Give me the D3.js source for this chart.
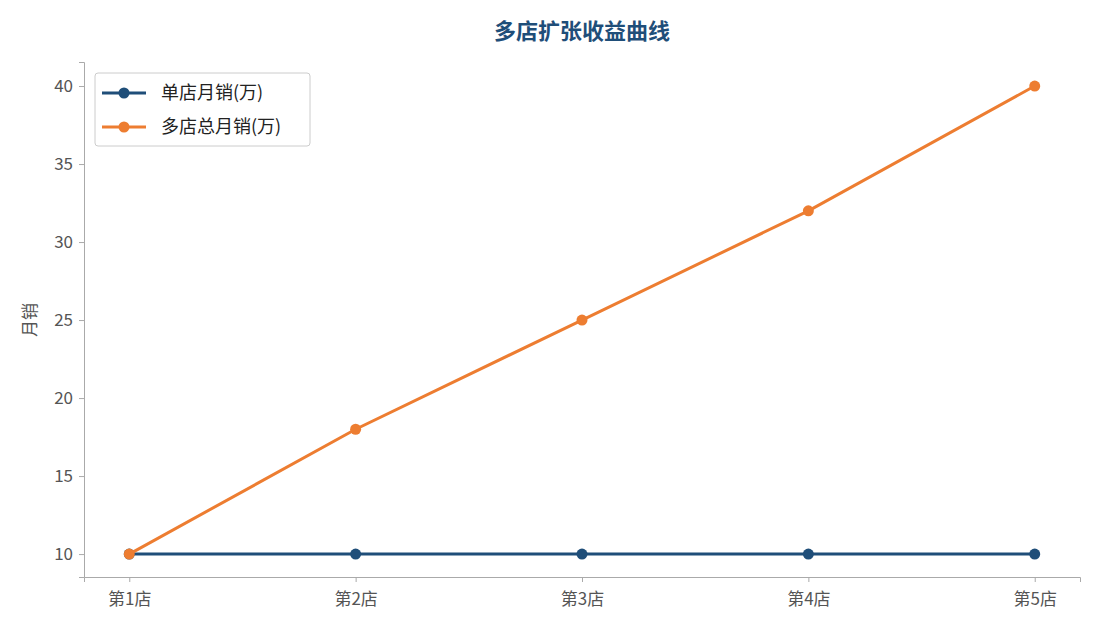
<!DOCTYPE html><html><head><meta charset="utf-8"><script src="https://cdn.jsdelivr.net/npm/d3@7"></script>
<style>body{margin:0;background:#fff;font-family:"Noto Sans CJK SC","Noto Sans",sans-serif}</style></head><body><svg id="c" width="1095" height="630"></svg>
<script>
const categories=["第1店","第2店","第3店","第4店","第5店"];
const single=[10,10,10,10,10];
const total=[10,18,25,32,40];
const yTicks=[10,15,20,25,30,35,40];
const seriesNames=["单店月销(万)","多店总月销(万)"];
const colors=["#1f4e79","#ed7d31"];
const svg=d3.select("#c");
const L=84,R=1080,T=62,B=577;
const x=d3.scalePoint().domain(categories).range([L,R]).padding(0.2);
const y=d3.scaleLinear().domain([8.53,41.54]).range([B,T]);
const fnt='"Noto Sans CJK SC","Noto Sans",sans-serif';
const ax=svg.append("g").attr("transform",`translate(0,${B})`).call(d3.axisBottom(x).tickSizeOuter(0).tickSize(5).tickPadding(6));
const ay=svg.append("g").attr("transform",`translate(${L},0)`).call(d3.axisLeft(y).tickValues(yTicks).tickSizeOuter(0).tickSize(5).tickPadding(6));
[ax,ay].forEach(a=>{a.selectAll("path,line").attr("stroke","#aaa");a.selectAll("text").attr("fill","#555").style("font-size","17px").style("font-family",fnt);});
ax.selectAll("text").attr("dy","1.0em");
svg.append("text").attr("x",582).attr("y",39).attr("text-anchor","middle").attr("fill","#1f4e79").style("font-size","22px").style("font-weight","bold").style("font-family",fnt).text("多店扩张收益曲线");
svg.append("text").attr("transform","translate(36,320) rotate(-90)").attr("text-anchor","middle").attr("fill","#555").style("font-size","17px").style("font-family",fnt).text("月销");
[single,total].forEach((d,i)=>{
 svg.append("path").datum(d).attr("fill","none").attr("stroke",colors[i]).attr("stroke-width",3)
  .attr("d",d3.line().x((v,j)=>x(categories[j])).y(v=>y(v)));
 svg.selectAll(null).data(d).enter().append("circle").attr("cx",(v,j)=>x(categories[j])).attr("cy",v=>y(v)).attr("r",5.5).attr("fill",colors[i]);
});
const lg=svg.append("g");
lg.append("rect").attr("x",95).attr("y",73).attr("width",215).attr("height",73).attr("rx",3).attr("fill","#fff").attr("stroke","#ccc");
seriesNames.forEach((n,i)=>{
 const yy=93+i*34;
 lg.append("line").attr("x1",102).attr("x2",146).attr("y1",yy).attr("y2",yy).attr("stroke",colors[i]).attr("stroke-width",3);
 lg.append("circle").attr("cx",124).attr("cy",yy).attr("r",5.5).attr("fill",colors[i]);
 lg.append("text").attr("x",161).attr("y",yy+6).attr("fill","#222").style("font-size","18px").style("font-family",fnt).text(n);
});
</script></body></html>
